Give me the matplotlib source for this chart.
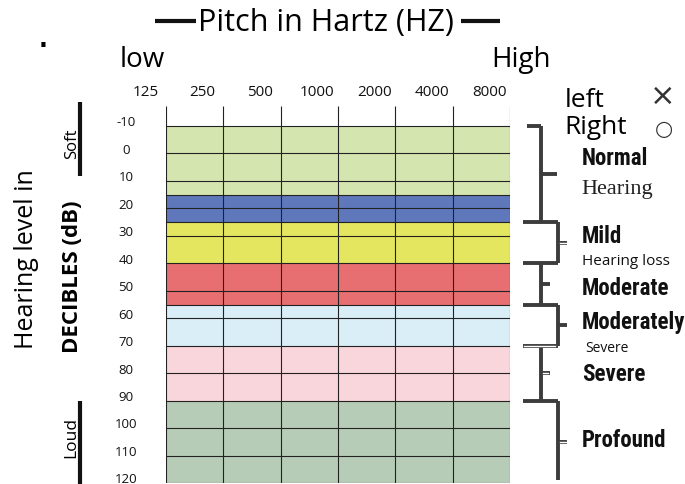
import numpy as np
import matplotlib
matplotlib.use('Agg')
import matplotlib.pyplot as plt
import matplotlib.font_manager as fm
from matplotlib.transforms import blended_transform_factory

# data
freqs = ['125', '250', '500', '1000', '2000', '4000', '8000']
db_ticks = list(range(-10, 121, 10))
band_edges = [-10, 15, 25, 40, 55, 70, 90, 120]
band_colors = ['#d5e5b0', '#5f78bb', '#e5e65f', '#e76f71', '#daeef8', '#f9d6db', '#b7ccb6']
degree_edges = [-10, 25, 40, 55, 70, 90, 120]
degree_names = ['Normal', 'Mild', 'Moderate', 'Moderately', 'Severe', 'Profound']
degree_subs = ['Hearing', 'Hearing loss', '', 'Severe', '', '']

SANS = 'Open Sans'
names = {f.name for f in fm.fontManager.ttflist}
narrow = next((n for n in ['Liberation Sans Narrow', 'DejaVu Sans Condensed', 'Roboto Condensed']
               if n in names), None)
if narrow:
    LBL_FONT, LBL_SIZE = narrow, 16.5
else:
    LBL_FONT, LBL_SIZE = SANS, 13

W, H = 685, 485
fig = plt.figure(figsize=(W / 100, H / 100), dpi=100)

# grid axes: x = column index, y = dB (inverted)
ax = fig.add_axes([166 / W, 1 - 484 / H, 344 / W, 377 / H])
ytop = -10 - 20 / 2.746
ax.set_xlim(0, 6)
ax.set_ylim(120, ytop)
ax.axis('off')

for lo, hi, c in zip(band_edges[:-1], band_edges[1:], band_colors):
    ax.fill_between([0, 6], lo, hi, color=c, lw=0, zorder=1)

hl = sorted(set(db_ticks) | set(band_edges))
ax.hlines(hl, 0, 6, color='#222222', lw=0.8, zorder=2)
ax.vlines(range(len(freqs)), ytop, 120, color='#222222', lw=0.8, zorder=2)

for i, f in enumerate(freqs):
    ax.text(i - 0.36, -21.3, f, ha='center', va='baseline', fontsize=11,
            family=SANS, color='#111111')

tr = blended_transform_factory(ax.transAxes, ax.transData)
for d in db_ticks:
    ax.text(-0.116, d - 1.5, str(d), transform=tr, ha='center', va='center',
            fontsize=9.5, family=SANS, color='#111111')

# brackets on the right
bc = '#3c3c3c'
xa, xb = 6.54, 6.84          # trunk x for left / right brackets
x0 = 6.22
kw = dict(color=bc, lw=2.8, clip_on=False, solid_capstyle='butt', zorder=3)
ax.plot([6.30, xa], [degree_edges[0]] * 2, **kw)
for k, (lo, hi) in enumerate(zip(degree_edges[:-1], degree_edges[1:])):
    xt = xa if k % 2 == 0 else xb
    bot = hi if k < len(degree_edges) - 2 else hi - 1
    ax.plot([xt, xt], [lo, bot], **kw)
    mid = (lo + hi) / 2
    tick_end = xt + (0.28 if k == 0 else 0.16)
    ax.plot([xt, tick_end], [mid, mid], **kw)
    if k in (1, 4, 5):
        ax.plot([xt + 0.03, tick_end - 0.03], [mid, mid], color='white', lw=1.0,
                clip_on=False, zorder=4)
for e in degree_edges[1:-1]:
    ax.plot([x0, xb], [e, e], **kw)
ax.plot([x0 + 0.03, xb - 0.06], [70, 70], color='white', lw=1.0, clip_on=False, zorder=4)

# overlay axes for free text, pixel coordinates
ov = fig.add_axes([0, 0, 1, 1], zorder=5)
ov.set_xlim(0, W)
ov.set_ylim(H, 0)
ov.axis('off')

ov.text(43, 47, '.', fontsize=17, fontweight='bold', ha='center', va='baseline')
ov.plot([155, 196], [22, 22], color='#111111', lw=3, solid_capstyle='butt')
ov.plot([461, 500], [22, 22], color='#111111', lw=3, solid_capstyle='butt')
ov.text(326, 31, 'Pitch in Hartz (HZ)', fontsize=22, family=SANS, ha='center', va='baseline')
ov.text(120, 67, 'low', fontsize=20, family=SANS, ha='left', va='baseline')
ov.text(551, 67, 'High', fontsize=20, family=SANS, ha='right', va='baseline')

ov.text(27, 259, 'Hearing level in', rotation=90, fontsize=18, family=SANS,
        ha='center', va='center')
ov.text(73, 277, 'DECIBLES (dB)', rotation=90, fontsize=16, family=SANS,
        fontweight='bold', ha='center', va='center')
ov.text(72, 144, 'Soft', rotation=90, fontsize=12, family=SANS, ha='center', va='center')
ov.text(71, 437, 'Loud', rotation=90, fontsize=12.5, family=SANS, ha='center', va='center')
ov.plot([80, 80], [103, 177], color='#111111', lw=3, solid_capstyle='butt')
ov.plot([80, 80], [402, 485], color='#111111', lw=3, solid_capstyle='butt')

ov.text(565, 107, 'left', fontsize=19, family=SANS, ha='left', va='baseline')
ov.text(564, 134, 'Right', fontsize=19, family=SANS, ha='left', va='baseline')
ov.text(663, 96, '\u00d7', fontsize=22, family='DejaVu Sans', ha='center', va='center',
        color='#333333')
ov.text(664, 129, '\u25cb', fontsize=15, family='DejaVu Sans', ha='center', va='center',
        color='#333333')

name_base = [165, 243, 295, 329, 381, 447]
sub_base = [194, 265, None, 352, None, None]
for nm, sb, yb, ys in zip(degree_names, degree_subs, name_base, sub_base):
    ov.text(582, yb, nm, fontsize=LBL_SIZE, family=LBL_FONT, fontweight='bold',
            ha='left', va='baseline', color='#111111')
    if sb == 'Hearing':
        ov.text(581, ys, sb, fontsize=16, family='Liberation Serif', ha='left',
                va='baseline', color='#222222')
    elif sb == 'Hearing loss':
        ov.text(582, ys, sb, fontsize=11, family=SANS, ha='left', va='baseline',
                color='#111111')
    elif sb:
        ov.text(585, ys, sb, fontsize=10, family=SANS, ha='left', va='baseline',
                color='#111111')

fig.savefig('out.png', dpi=100)
